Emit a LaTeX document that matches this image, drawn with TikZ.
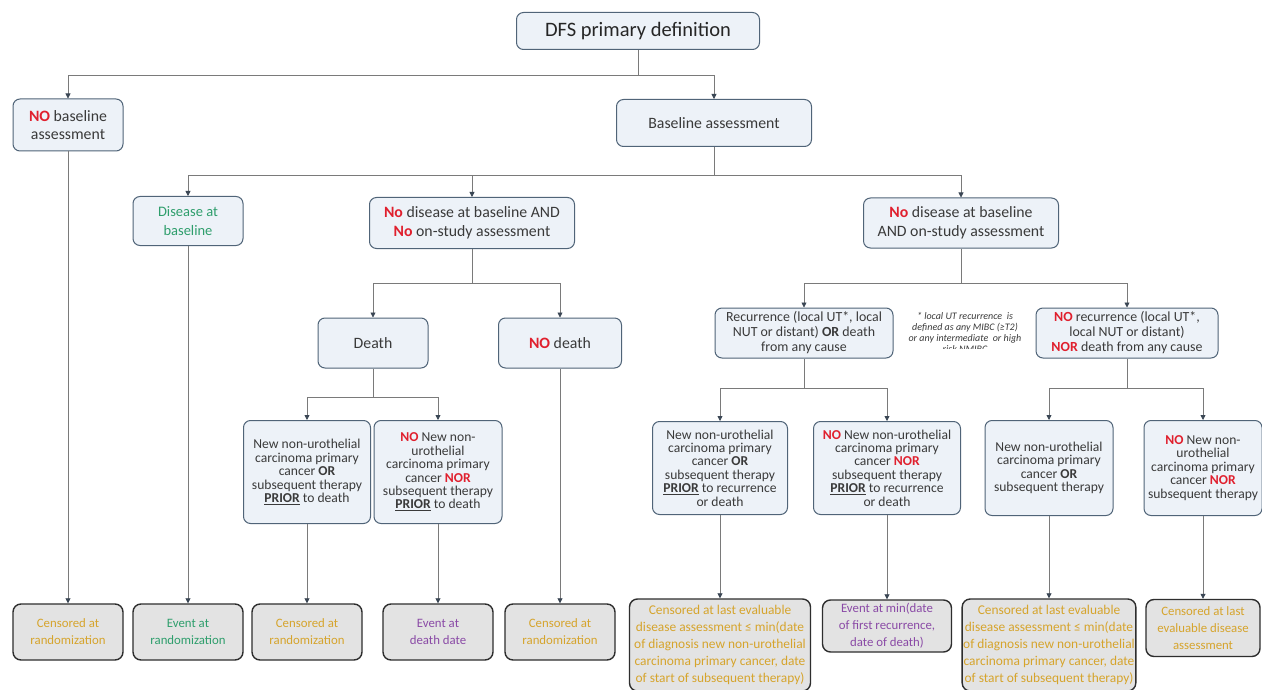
\documentclass[tikz,border=0pt]{standalone}
\usepackage{fontspec}
\setmainfont{Carlito}
\usepackage{tikz}
\usetikzlibrary{arrows.meta}
\usepackage{xcolor}
\definecolor{boxfill}{HTML}{EDF2F8}
\definecolor{boxedge}{HTML}{506478}
\definecolor{endfill}{HTML}{E3E3E3}
\definecolor{endedge}{HTML}{2E2E2E}
\definecolor{linegray}{HTML}{7A7A7A}
\definecolor{tipgray}{HTML}{3A4654}
\definecolor{txtgray}{HTML}{3A3A3A}
\definecolor{nored}{HTML}{E0202E}
\definecolor{evgreen}{HTML}{2E9E6C}
\definecolor{censgold}{HTML}{D6A42C}
\definecolor{evpurple}{HTML}{8A4AA6}
\newcommand{\redword}[1]{\textcolor{nored}{\textbf{#1}}}
\newcommand{\prior}{\underline{\textbf{PRIOR}}}

\begin{document}
\begin{tikzpicture}[x=1pt,y=-1pt,
	blockbox/.style={draw=boxedge,fill=boxfill,line width=1pt,rounded corners=7pt,align=center,text=txtgray,inner sep=1pt},
	endbox/.style={draw=endedge,fill=endfill,line width=1.4pt,rounded corners=8pt,align=center,inner sep=1pt,font=\fontsize{12.8}{17}\selectfont},
	smallbox/.style={blockbox,font=\fontsize{13.6}{13.4}\selectfont},
	midbox/.style={blockbox,font=\fontsize{15.8}{18.5}\selectfont},
	line/.style={draw=linegray,line width=0.8pt},
	conn/.style={line,-{Triangle[length=5pt,width=5pt,color=tipgray]}}]
	\useasboundingbox[fill=white] (0,0) rectangle (1262,690);
	\node[blockbox,minimum width=243,minimum height=37,font=\fontsize{20.5}{22}\selectfont,text=black!85] (dfs) at (638,31) {DFS primary definition};
	\node[midbox,minimum width=110,minimum height=52] (nobase) at (68,125) {\redword{NO} baseline\\assessment};
	\node[midbox,minimum width=195,minimum height=47] (base) at (714,123) {Baseline assessment};
	\node[midbox,minimum width=110,minimum height=49,text=evgreen,font=\fontsize{14.5}{18.5}\selectfont] (disbase) at (188,221) {Disease at\\baseline};
	\node[midbox,minimum width=205,minimum height=51] (nodisno) at (472,223) {\redword{No} disease at baseline AND\\\redword{No} on-study assessment};
	\node[midbox,minimum width=195,minimum height=50] (nodison) at (961,223) {\redword{No} disease at baseline\\AND on-study assessment};
	\node[midbox,minimum width=110,minimum height=50] (death) at (373,343) {Death};
	\node[midbox,minimum width=123,minimum height=50] (nodeath) at (560,343) {\redword{NO} death};
	\node[blockbox,minimum width=178,minimum height=50,font=\fontsize{13.9}{15}\selectfont] (recur) at (804,333) {Recurrence (local UT*, local\\NUT or distant) \textbf{OR} death\\from any cause};
	\node[blockbox,minimum width=182,minimum height=50,font=\fontsize{13.9}{15}\selectfont] (norecur) at (1127,333) {\redword{NO} recurrence (local UT*,\\local NUT or distant)\\\redword{NOR} death from any cause};
	\begin{scope}
		\clip (895,295) rectangle (1034,348);
		\node[align=center,text=txtgray,font=\fontsize{10}{11}\selectfont\itshape,inner sep=0pt] (note) at (965,332) {* local UT recurrence\ \ is\\defined as any MIBC (≥T2)\\or any intermediate\ \ or high\\risk NMIBC};
	\end{scope}
	\node[smallbox,minimum width=127,minimum height=103] (dc1) at (307,472) {New non-urothelial\\carcinoma primary\\cancer \textbf{OR}\\subsequent therapy\\\prior{} to death};
	\node[smallbox,minimum width=128,minimum height=103] (dc2) at (438,472) {\redword{NO} New non-\\urothelial\\carcinoma primary\\cancer \redword{NOR}\\subsequent therapy\\\prior{} to death};
	\node[smallbox,minimum width=135,minimum height=93] (rc1) at (720,468) {New non-urothelial\\carcinoma primary\\cancer \textbf{OR}\\subsequent therapy\\\prior{} to recurrence\\or death};
	\node[smallbox,minimum width=147,minimum height=93] (rc2) at (887,468) {\redword{NO} New non-urothelial\\carcinoma primary\\cancer \redword{NOR}\\subsequent therapy\\\prior{} to recurrence\\or death};
	\node[smallbox,minimum width=128,minimum height=95] (nc1) at (1049,468) {New non-urothelial\\carcinoma primary\\cancer \textbf{OR}\\subsequent therapy};
	\node[smallbox,minimum width=118,minimum height=95] (nc2) at (1203,468) {\redword{NO} New non-\\urothelial\\carcinoma primary\\cancer \redword{NOR}\\subsequent therapy};
	\node[endbox,minimum width=110,minimum height=56,text=censgold] (e1) at (68,632) {Censored at\\randomization};
	\node[endbox,minimum width=110,minimum height=56,text=evgreen] (e2) at (188,632) {Event at\\randomization};
	\node[endbox,minimum width=110,minimum height=56,text=censgold] (e3) at (307,632) {Censored at\\randomization};
	\node[endbox,minimum width=110,minimum height=56,text=evpurple] (e4) at (438,632) {Event at\\death date};
	\node[endbox,minimum width=110,minimum height=56,text=censgold] (e5) at (560,632) {Censored at\\randomization};
	\node[endbox,minimum width=181,minimum height=92,text=censgold,font=\fontsize{13.4}{17}\selectfont] (e6) at (720,645) {Censored at last evaluable\\disease assessment ≤ min(date\\of diagnosis new non-urothelial\\carcinoma primary cancer, date\\of start of subsequent therapy)};
	\node[endbox,minimum width=129,minimum height=52,text=evpurple] (e7) at (887,626) {Event at min(date\\of first recurrence,\\date of death)};
	\node[endbox,minimum width=170,minimum height=92,text=censgold,font=\fontsize{13.4}{17}\selectfont] (e8) at (1049,645) {Censored at last evaluable\\disease assessment ≤ min(date\\of diagnosis new non-urothelial\\carcinoma primary cancer, date\\of start of subsequent therapy)};
	\node[endbox,minimum width=114,minimum height=57,text=censgold] (e9) at (1203,628) {Censored at last\\evaluable disease\\assessment};
	\coordinate (j0) at (638,75);
	\coordinate (j1) at (714,175);
	\coordinate (j2) at (472,283);
	\coordinate (j3) at (373,397);
	\coordinate (j4) at (961,283);
	\coordinate (j5) at (804,388);
	\coordinate (j6) at (1127,388);
	\draw[line] (dfs.south) -- (j0);
	\draw[conn] (j0) -| (nobase.north);
	\draw[conn] (j0) -| (base.north);
	\draw[line] (base.south) -- (j1);
	\draw[conn] (j1) -| (disbase.north);
	\draw[conn] (j1) -| (nodisno.north);
	\draw[conn] (j1) -| (nodison.north);
	\draw[line] (nodisno.south) -- (j2);
	\draw[conn] (j2) -| (death.north);
	\draw[conn] (j2) -| (nodeath.north);
	\draw[line] (death.south) -- (j3);
	\draw[conn] (j3) -| (dc1.north);
	\draw[conn] (j3) -| (dc2.north);
	\draw[line] (nodison.south) -- (j4);
	\draw[conn] (j4) -| (recur.north);
	\draw[conn] (j4) -| (norecur.north);
	\draw[line] (recur.south) -- (j5);
	\draw[conn] (j5) -| (rc1.north);
	\draw[conn] (j5) -| (rc2.north);
	\draw[line] (norecur.south) -- (j6);
	\draw[conn] (j6) -| (nc1.north);
	\draw[conn] (j6) -| (nc2.north);
	\draw[conn] (nobase.south) -- (e1.north);
	\draw[conn] (disbase.south) -- (e2.north);
	\draw[conn] (dc1.south) -- (e3.north);
	\draw[conn] (dc2.south) -- (e4.north);
	\draw[conn] (nodeath.south) -- (e5.north);
	\draw[conn] (rc1.south) -- (e6.north);
	\draw[conn] (rc2.south) -- (e7.north);
	\draw[conn] (nc1.south) -- (e8.north);
	\draw[conn] (nc2.south) -- (e9.north);
\end{tikzpicture}
\end{document}
